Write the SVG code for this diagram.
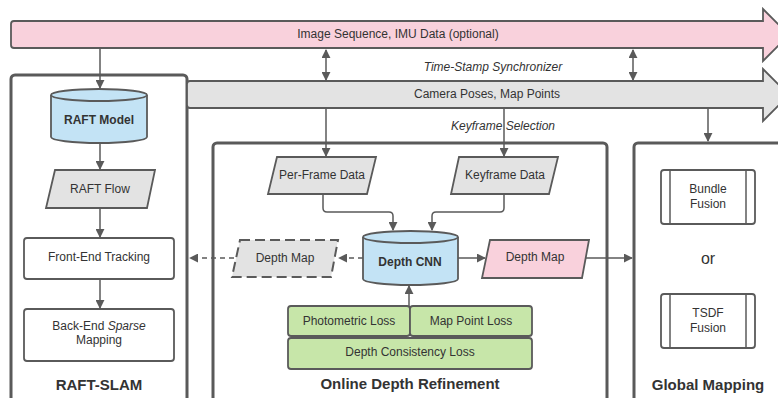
<svg xmlns="http://www.w3.org/2000/svg" width="778" height="398" viewBox="0 0 778 398">
<defs>
<marker id="ah" viewBox="0 0 10 10" refX="9" refY="5" markerWidth="9" markerHeight="9" markerUnits="userSpaceOnUse" orient="auto-start-reverse">
<path d="M0,0 L10,5 L0,10 Z" fill="#5a5a5a"/>
</marker>
</defs>
<style>
text{font-family:"Liberation Sans",Arial,sans-serif;fill:#333;text-anchor:middle;dominant-baseline:central}
.t{font-size:12px}
.it{font-size:12px;font-style:italic}
.b{font-size:12px;font-weight:bold}
.title{font-size:15px;font-weight:bold}
.cont{fill:#fff;stroke:#5a5a5a;stroke-width:3}
.box{fill:#fff;stroke:#5a5a5a;stroke-width:1.8}
.gray{fill:#e3e3e3;stroke:#5a5a5a;stroke-width:1.8}
.pink{fill:#f9d1dc;stroke:#5a5a5a;stroke-width:1.8}
.blue{fill:#c3e3f5;stroke:#5a5a5a;stroke-width:1.8}
.green{fill:#c7e6a9;stroke:#5a5a5a;stroke-width:1.8}
.ln{fill:none;stroke:#5a5a5a;stroke-width:1.5}
.dash{stroke-dasharray:5,4}
.bigdash{stroke-dasharray:10,5;stroke-width:2}
</style>

<g id="containers">
<rect class="cont" x="11" y="75" width="176" height="340" rx="4"/>
<rect class="cont" x="213" y="143" width="394" height="280" rx="4"/>
<rect class="cont" x="634" y="143" width="200" height="280" rx="4"/>
</g>

<g id="image-sequence">
<path class="pink" d="M14,21 H763 V9 L789,35 L763,61 V48 H14 Q11,48 11,45 V24 Q11,21 14,21 Z"/>
<text class="t" x="398" y="34">Image Sequence, IMU Data (optional)</text>
</g>
<g id="camera-poses">
<path class="gray" d="M190,81 H763 V69 L789,95 L763,121 V108 H190 Q187,108 187,105 V84 Q187,81 190,81 Z"/>
<text class="t" x="487" y="94">Camera Poses, Map Points</text>
</g>
<g id="labels">
<text class="it" x="493" y="67">Time-Stamp Synchronizer</text>
<text class="it" x="503" y="126">Keyframe Selection</text>
</g>

<g id="raft-model">
<path class="blue" d="M51,95 V137 A48,6 0 0 0 147,137 V95"/>
<ellipse class="blue" cx="99" cy="95" rx="48" ry="6"/>
<text class="b" x="99" y="120">RAFT Model</text>
</g>
<g id="raft-flow">
<path class="gray" d="M55,170 H155 L147,208 H46 Z"/>
<text class="t" x="100" y="189">RAFT Flow</text>
</g>
<g id="front-end">
<rect class="box" x="24" y="238" width="150" height="41" rx="3"/>
<text class="t" x="99" y="257">Front-End Tracking</text>
</g>
<g id="back-end">
<rect class="box" x="24" y="309" width="150" height="52" rx="3"/>
<text class="t" x="99" y="326">Back-End <tspan font-style="italic">Sparse</tspan></text>
<text class="t" x="99" y="340">Mapping</text>
</g>
<g id="raft-slam-title"><text class="title" x="99" y="384">RAFT-SLAM</text></g>

<g id="per-frame">
<path class="gray" d="M277,157 H376 L367,194 H268 Z"/>
<text class="t" x="322" y="175">Per-Frame Data</text>
</g>
<g id="keyframe-data">
<path class="gray" d="M459,157 H558 L549,194 H451 Z"/>
<text class="t" x="505" y="175">Keyframe Data</text>
</g>
<g id="depth-cnn">
<path class="blue" d="M363,237 V279 A47.5,6 0 0 0 458,279 V237"/>
<ellipse class="blue" cx="410.5" cy="237" rx="47.5" ry="6"/>
<text class="b" x="410" y="262">Depth CNN</text>
</g>
<g id="depth-map-dashed">
<path class="gray bigdash" d="M240,240 H338 L331,277 H232 Z"/>
<text class="t" x="285" y="258">Depth Map</text>
</g>
<g id="depth-map-pink">
<path class="pink" d="M490,240 H589 L582,278 H482 Z"/>
<text class="t" x="535" y="257">Depth Map</text>
</g>
<g id="photometric-loss">
<rect class="green" x="288" y="306" width="122" height="30" rx="3"/>
<text class="t" x="349" y="321">Photometric Loss</text>
</g>
<g id="map-point-loss">
<rect class="green" x="410" y="306" width="122" height="30" rx="3"/>
<text class="t" x="471" y="321">Map Point Loss</text>
</g>
<g id="depth-consistency-loss">
<rect class="green" x="288" y="338" width="244" height="31" rx="3"/>
<text class="t" x="410" y="352">Depth Consistency Loss</text>
</g>
<g id="odr-title"><text class="title" x="410" y="383">Online Depth Refinement</text></g>

<g id="bundle-fusion">
<rect class="box" x="661" y="170" width="94" height="54" rx="3"/>
<line class="ln" x1="670" y1="170" x2="670" y2="224" stroke-width="1.8"/>
<line class="ln" x1="746" y1="170" x2="746" y2="224" stroke-width="1.8"/>
<text class="t" x="708" y="189">Bundle</text>
<text class="t" x="708" y="204">Fusion</text>
</g>
<g id="or"><text x="708" y="258" style="font-size:16px">or</text></g>
<g id="tsdf-fusion">
<rect class="box" x="661" y="294" width="94" height="54" rx="3"/>
<line class="ln" x1="670" y1="294" x2="670" y2="348" stroke-width="1.8"/>
<line class="ln" x1="746" y1="294" x2="746" y2="348" stroke-width="1.8"/>
<text class="t" x="708" y="313">TSDF</text>
<text class="t" x="708" y="328">Fusion</text>
</g>
<g id="gm-title"><text class="title" x="708" y="384">Global Mapping</text></g>

<g id="connectors">
<line class="ln" x1="100" y1="48" x2="100" y2="88" marker-end="url(#ah)"/>
<line class="ln" x1="100" y1="144" x2="100" y2="169" marker-end="url(#ah)"/>
<line class="ln" x1="100" y1="208" x2="100" y2="237" marker-end="url(#ah)"/>
<line class="ln" x1="100" y1="279" x2="100" y2="308" marker-end="url(#ah)"/>
<line class="ln" x1="326" y1="50" x2="326" y2="80" marker-start="url(#ah)" marker-end="url(#ah)"/>
<line class="ln" x1="633" y1="50" x2="633" y2="80" marker-start="url(#ah)" marker-end="url(#ah)"/>
<line class="ln" x1="326" y1="108" x2="326" y2="156" marker-end="url(#ah)"/>
<line class="ln" x1="504" y1="108" x2="504" y2="156" marker-end="url(#ah)"/>
<line class="ln" x1="708" y1="108" x2="708" y2="141" marker-end="url(#ah)"/>
<path class="ln" d="M323,194 V208 Q323,212 327,212 H389 Q393,212 393,216 V230" marker-end="url(#ah)"/>
<path class="ln" d="M504,194 V208 Q504,212 500,212 H436 Q432,212 432,216 V230" marker-end="url(#ah)"/>
<line class="ln dash" x1="363" y1="258" x2="339" y2="258" marker-end="url(#ah)"/>
<line class="ln dash" x1="234" y1="258" x2="190" y2="258" marker-end="url(#ah)"/>
<line class="ln" x1="458" y1="258" x2="485" y2="258" marker-end="url(#ah)"/>
<line class="ln" x1="586" y1="258" x2="632" y2="258" marker-end="url(#ah)"/>
<line class="ln" x1="409" y1="306" x2="409" y2="286" marker-end="url(#ah)"/>
</g>
</svg>
